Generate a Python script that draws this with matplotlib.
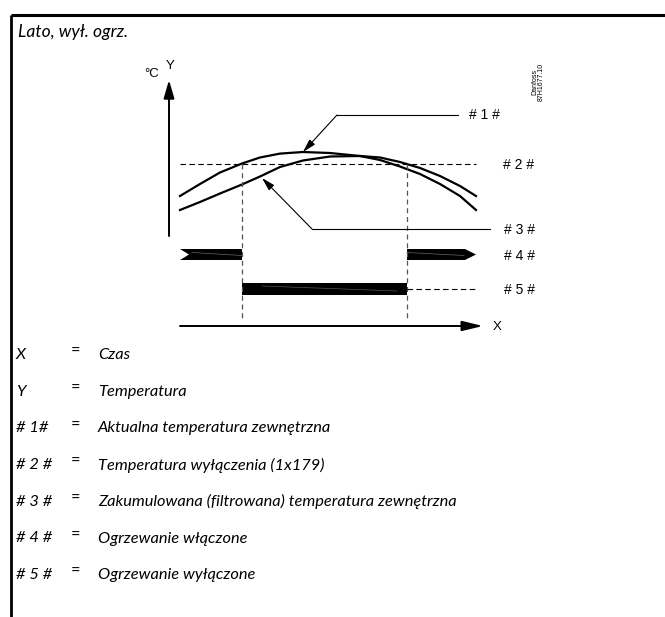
import matplotlib.pyplot as plt

# curves: time position -> temperature position (drawing units, y grows downward)
t_points = [180, 200, 220, 242, 260, 280, 303, 330, 360, 380, 400, 420, 440, 460, 476]
actual_temp = [196, 184, 172.5, 163.5, 157.5, 153.6, 152, 153, 156, 160, 166.5, 174, 184, 196, 210]
filtered_temp = [210, 202, 193.5, 184.5, 176.5, 167, 160.5, 156.5, 156, 157.5, 162, 168, 176, 186, 196]

cutout_temp = 164          # # 2 # level
switch_off_t = 242         # heating switched off
switch_on_t = 407          # heating switched on again

title = "Lato, wył. ogrz."
legend_keys = ["X", "Y", "# 1#", "# 2 #", "# 3 #", "# 4 #", "# 5 #"]
legend_texts = ["Czas", "Temperatura", "Aktualna temperatura zewnętrzna",
                "Temperatura wyłączenia (1x179)",
                "Zakumulowana (filtrowana) temperatura zewnętrzna",
                "Ogrzewanie włączone", "Ogrzewanie wyłączone"]
tags = ["# 1 #", "# 2 #", "# 3 #", "# 4 #", "# 5 #"]

fig = plt.figure(figsize=(6.65, 6.17), dpi=100)
ax = fig.add_axes([0, 0, 1, 1])
ax.set_xlim(0, 665)
ax.set_ylim(617, 0)
ax.axis("off")

# frame
ax.plot([11, 665], [15, 15], color="k", lw=2.2, solid_capstyle="butt")
ax.plot([11, 11], [15, 617], color="k", lw=2.0, solid_capstyle="butt")
ax.text(18, 32, title, fontsize=12.6, family="Lato", style="italic", va="center")

# axes arrows
ax.annotate("", xy=(169, 80), xytext=(169, 236),
            arrowprops=dict(arrowstyle="-|>,head_length=1.1,head_width=0.32",
                            lw=1.4, color="k", shrinkA=0, shrinkB=0))
ax.annotate("", xy=(483, 326), xytext=(180, 326),
            arrowprops=dict(arrowstyle="-|>,head_length=1.25,head_width=0.3",
                            lw=1.4, color="k", shrinkA=0, shrinkB=0))
ax.text(170, 66, "Y", fontsize=9.5, family="Liberation Sans", ha="center", va="center")
ax.text(152, 74, "°C", fontsize=9.5, family="Liberation Sans", ha="center", va="center")
ax.text(497, 327, "X", fontsize=9.5, family="Liberation Sans", ha="center", va="center")

# temperature curves
ax.plot(t_points, actual_temp, color="k", lw=1.6)
ax.plot(t_points, filtered_temp, color="k", lw=1.6)

# cut-out level and switching lines
ax.plot([t_points[0], t_points[-1]], [cutout_temp, cutout_temp], color="k", lw=0.8,
        dashes=(5, 3))
for t in (switch_off_t, switch_on_t):
    ax.plot([t, t], [cutout_temp, 318], color="#555555", lw=0.9, dashes=(4, 3))

# heating on (# 4 #) bars
y4, h4 = 254.5, 5.5
ax.fill([t_points[0], switch_off_t, switch_off_t, t_points[0], t_points[0] + 9],
        [y4 - h4, y4 - h4, y4 + h4, y4 + h4, y4], color="k", lw=0)
ax.fill([switch_on_t, t_points[-1] - 11, t_points[-1], t_points[-1] - 11, switch_on_t],
        [y4 - h4, y4 - h4, y4, y4 + h4, y4 + h4], color="k", lw=0)
# heating off (# 5 #) bar
y5, h5 = 289, 6
ax.fill([switch_off_t, switch_on_t, switch_on_t, switch_off_t],
        [y5 - h5, y5 - h5, y5 + h5, y5 + h5], color="k", lw=0)
ax.plot([switch_on_t, t_points[-1]], [y5, y5], color="k", lw=0.8, dashes=(5, 3))

# faint streaks inside the bars
for x0, x1 in [(t_points[0] + 12, switch_off_t), (switch_on_t, t_points[-1] - 12)]:
    ax.plot([x0, x1], [y4 - 2, y4 + 1], color="#666666", lw=0.5)
ax.plot([switch_off_t + 20, switch_on_t - 10], [y5 - 3, y5 + 2], color="#555555", lw=0.5)

# leader lines
ax.annotate("", xy=(303, 152), xytext=(337, 115),
            arrowprops=dict(arrowstyle="-|>,head_length=0.8,head_width=0.22",
                            lw=0.8, color="k", shrinkA=0, shrinkB=0))
ax.plot([337, 458], [115, 115], color="k", lw=0.8)
ax.annotate("", xy=(262, 178), xytext=(312, 229),
            arrowprops=dict(arrowstyle="-|>,head_length=0.8,head_width=0.22",
                            lw=0.8, color="k", shrinkA=0, shrinkB=0))
ax.plot([312, 490], [229, 229], color="k", lw=0.8)

tag_pos = [(484, 115), (519, 165), (519, 230), (519, 256), (519, 290)]
for tag, (x, y) in zip(tags, tag_pos):
    ax.text(x, y, tag, fontsize=10, family="Liberation Sans", ha="center", va="center")

ax.text(538, 82, "Danfoss\n87H1677.10", fontsize=5, family="Liberation Sans",
        rotation=90, ha="center", va="center", linespacing=1.0)

# key
for i, (k, txt) in enumerate(zip(legend_keys, legend_texts)):
    y = 355 + i * 36.7
    ax.text(16, y, k, fontsize=11.8, family="Lato", style="italic", va="center")
    ax.text(75, y - 3, "=", fontsize=11.8, family="Lato", ha="center", va="center")
    ax.text(98, y, txt, fontsize=11.8, family="Lato", style="italic", va="center")

fig.savefig("out.png", dpi=100)
